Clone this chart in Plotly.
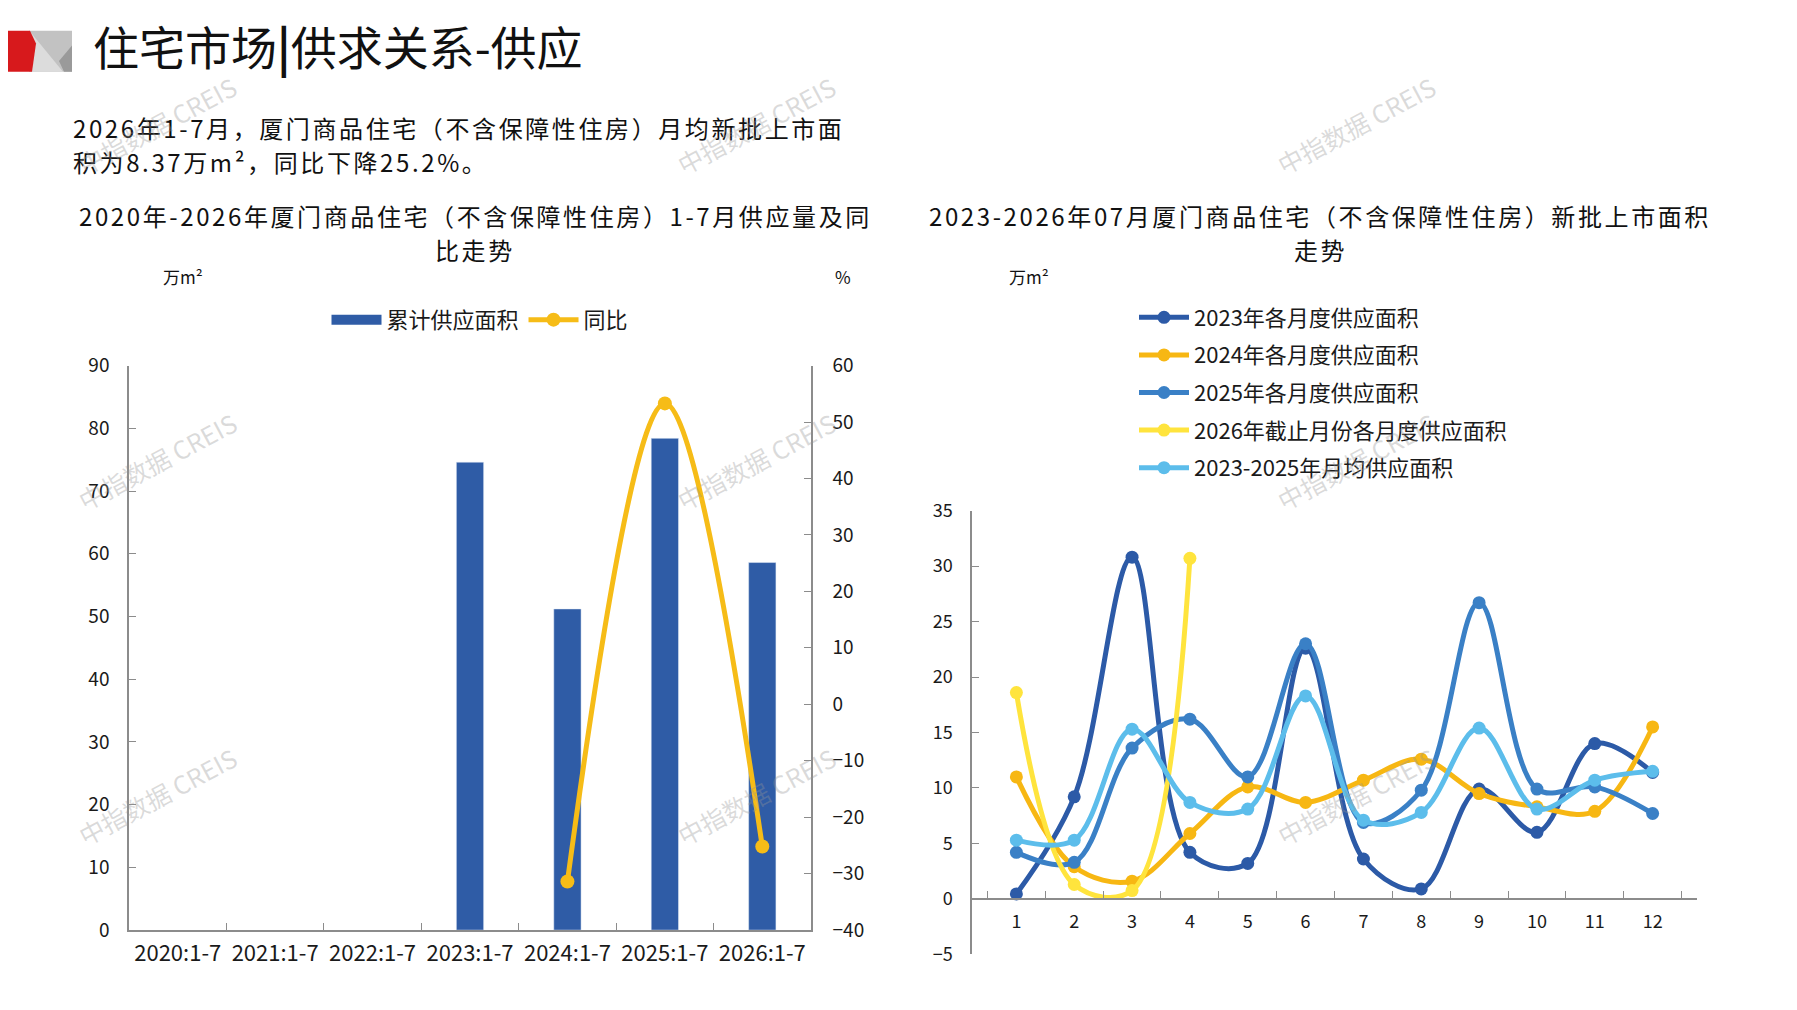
import plotly.graph_objects as go

W, H = 1797, 1010
FONT = "Noto Sans CJK SC"

# 左图：1-7月累计供应面积及同比
periods = ["2020:1-7", "2021:1-7", "2022:1-7", "2023:1-7", "2024:1-7", "2025:1-7", "2026:1-7"]
supply_area = [None, None, None, 74.6, 51.2, 78.4, 58.6]
yoy = [None, None, None, None, -31.4, 53.3, -25.2]

# 右图：各月新批上市面积
months = ["1", "2", "3", "4", "5", "6", "7", "8", "9", "10", "11", "12"]
s2023 = [0.45, 9.2, 30.8, 4.2, 3.2, 22.6, 3.6, 0.9, 9.9, 6.0, 14.0, 11.4]
s2024 = [11.0, 2.9, 1.6, 5.9, 10.1, 8.7, 10.7, 12.6, 9.5, 8.3, 7.9, 15.5]
s2025 = [4.2, 3.3, 13.6, 16.2, 11.0, 23.0, 6.9, 9.8, 26.7, 9.9, 10.1, 7.7]
s2026 = [18.6, 1.3, 0.75, 30.7]
avg_2325 = [5.3, 5.3, 15.3, 8.7, 8.1, 18.3, 7.1, 7.8, 15.4, 8.1, 10.7, 11.5]


def px(x):
    return x / W


def py(y):
    return 1 - y / H


BAR_BLUE = "#2F5CA6"
YOY_GOLD = "#F6BC17"

fig = go.Figure()

fig.add_trace(go.Bar(
    x=periods, y=supply_area, name="累计供应面积",
    marker_color=BAR_BLUE, xaxis="x", yaxis="y", showlegend=False
))
# legend swatch for the bars (wide block like the original)
fig.add_trace(go.Scatter(
    x=[None], y=[None], name="累计供应面积", mode="lines",
    line=dict(color=BAR_BLUE, width=12), xaxis="x", yaxis="y", legend="legend"
))
fig.add_trace(go.Scatter(
    x=periods, y=yoy, name="同比", mode="lines+markers",
    line=dict(color=YOY_GOLD, width=5, shape="spline", smoothing=1.0),
    marker=dict(size=14, color=YOY_GOLD),
    xaxis="x", yaxis="y2", legend="legend"
))

series = [
    ("2023年各月度供应面积", s2023, "#2C5AA7"),
    ("2024年各月度供应面积", s2024, "#F7B713"),
    ("2025年各月度供应面积", s2025, "#3A80C6"),
    ("2026年截止月份各月度供应面积", s2026, "#FFE43D"),
    ("2023-2025年月均供应面积", avg_2325, "#5CBDEB"),
]
for name, vals, color in series:
    fig.add_trace(go.Scatter(
        x=months[:len(vals)], y=vals, name=name, mode="lines+markers",
        line=dict(color=color, width=5, shape="spline", smoothing=1.0),
        marker=dict(size=13, color=color),
        xaxis="x2", yaxis="y3", legend="legend2", legendgroup=name
    ))

axis_grey = "#8C8C8C"
txt = "#1a1a1a"

fig.update_layout(
    width=W, height=H,
    margin=dict(l=0, r=0, t=0, b=0),
    paper_bgcolor="white", plot_bgcolor="white",
    font=dict(family=FONT, color=txt),
    bargap=0.72,
    showlegend=True,
    xaxis=dict(
        domain=[px(121), px(803)], anchor="y", type="category",
        tickson="boundaries", ticks="inside", ticklen=7, tickcolor=axis_grey,
        showline=True, linecolor=axis_grey, linewidth=1.5,
        showgrid=False, tickfont=dict(family=FONT, size=22, color=txt),
        ticklabelstandoff=3,
    ),
    yaxis=dict(
        domain=[py(932), py(352)], range=[0, 90], dtick=10,
        ticks="inside", ticklen=7, tickcolor=axis_grey,
        showline=True, linecolor=axis_grey, linewidth=1.5,
        showgrid=False, zeroline=False,
        tickfont=dict(family=FONT, size=19, color=txt),
        ticklabelstandoff=14,
    ),
    yaxis2=dict(
        overlaying="y", side="right", anchor="x", range=[-40, 60], dtick=10,
        ticks="inside", ticklen=7, tickcolor=axis_grey,
        showline=True, linecolor=axis_grey, linewidth=1.5,
        showgrid=False, zeroline=False,
        tickfont=dict(family=FONT, size=19, color=txt),
        ticklabelstandoff=16,
    ),
    xaxis2=dict(
        domain=[px(964), px(1689)], anchor="free", type="category",
        position=py(900),
        tickson="boundaries", ticks="inside", ticklen=7, tickcolor=axis_grey,
        showline=True, linecolor=axis_grey, linewidth=1.5,
        showgrid=False, tickfont=dict(family=FONT, size=18, color=txt),
        ticklabelstandoff=7,
    ),
    yaxis3=dict(
        domain=[py(957), py(501)], anchor="x2", range=[-5, 35], dtick=5,
        ticks="inside", ticklen=7, tickcolor=axis_grey,
        showline=True, linecolor=axis_grey, linewidth=1.5,
        showgrid=False, zeroline=False,
        tickfont=dict(family=FONT, size=18, color=txt),
        ticklabelstandoff=14,
    ),
    legend=dict(
        orientation="h", x=px(472), xanchor="center", y=py(305), yanchor="middle",
        font=dict(family=FONT, size=22), bgcolor="rgba(0,0,0,0)",
        itemwidth=50,
    ),
    legend2=dict(
        orientation="v", x=px(1126), xanchor="left", y=py(281), yanchor="top",
        font=dict(family=FONT, size=22), bgcolor="rgba(0,0,0,0)",
        tracegroupgap=6, itemwidth=50,
    ),
)


def spaced(s, gap=2.6):
    return f'<span style="letter-spacing:{gap}px">{s}</span>'


# text, x, y, size, anchor (page pixel positions)
texts = [
    ("住宅市场<b>|</b>供求关系-供应", 83, 23, 46, "left"),
    (spaced("2026年1-7月，厦门商品住宅（不含保障性住房）月均新批上市面"), 63, 107, 24, "left"),
    (spaced("积为8.37万m²，同比下降25.2%。"), 63, 142, 24, "left"),
    (spaced("2020年-2026年厦门商品住宅（不含保障性住房）1-7月供应量及同"), 467, 198, 24, "center"),
    (spaced("比走势"), 467, 233, 24, "center"),
    (spaced("2023-2026年07月厦门商品住宅（不含保障性住房）新批上市面积"), 1312, 198, 24, "center"),
    (spaced("走势"), 1312, 233, 24, "center"),
    ("万m²", 175, 260, 17, "center"),
    ("%", 835, 260, 17, "center"),
    ("万m²", 1021, 260, 17, "center"),
]
for t, x, y, s, anchor in texts:
    fig.add_annotation(
        text=t, x=px(x), y=py(y), xref="paper", yref="paper",
        xanchor=anchor, yanchor="middle", align=anchor, showarrow=False,
        font=dict(family=FONT, size=s, color="#111111"),
    )

# 水印
for wx in (149, 748, 1348):
    for wy in (105, 450, 794):
        fig.add_annotation(
            text="中指数据 CREIS", x=px(wx), y=py(wy), xref="paper", yref="paper",
            xanchor="center", yanchor="middle",
            showarrow=False, textangle=-28,
            font=dict(family=FONT, size=25, color="rgba(150,150,150,0.35)"),
        )


# 左上角标志
def poly(points, color):
    path = "M " + " L ".join(f"{px(a)},{py(b)}" for a, b in points) + " Z"
    fig.add_shape(type="path", path=path, xref="paper", yref="paper",
                  fillcolor=color, line=dict(width=0), layer="above")


poly([(21, 8), (64, 8), (64, 50), (21, 50)], "#C2C2C2")
poly([(23, 10), (55, 50), (23, 50)], "#DCDCDC")
poly([(51, 39), (64, 23), (64, 50), (56, 50)], "#9A9A9A")
poly([(0, 8), (22, 8), (28, 21), (24, 50), (0, 50)], "#D7191C")

fig.write_html("out.html")
